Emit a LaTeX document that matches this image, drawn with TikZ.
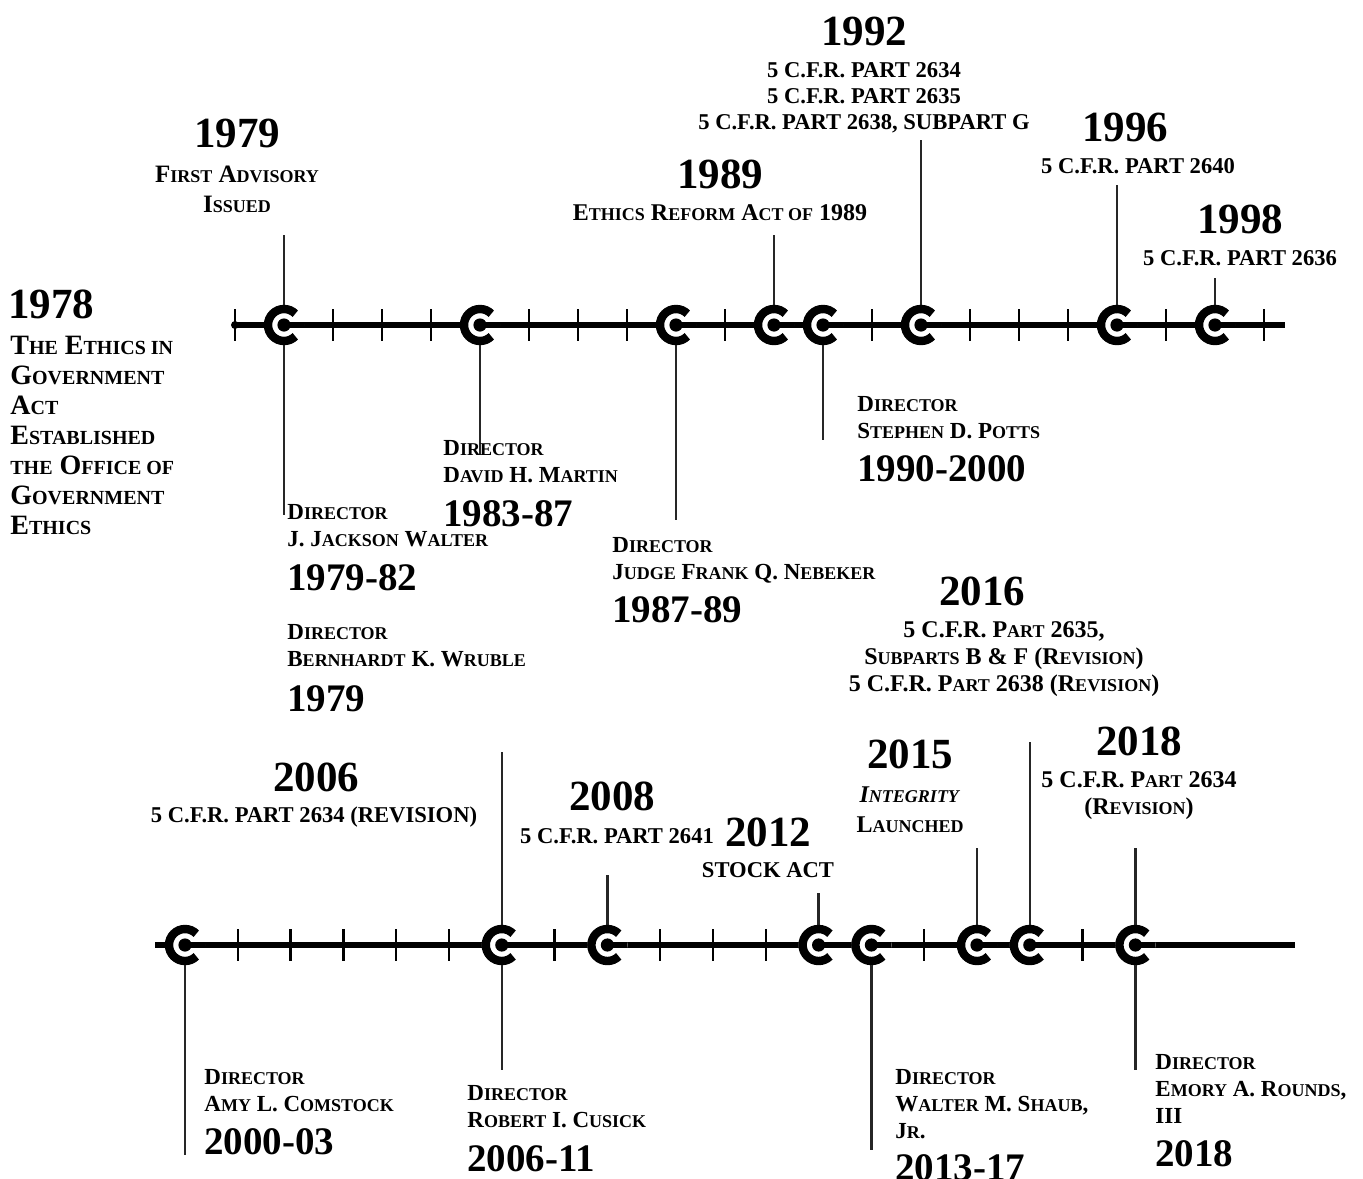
\documentclass[tikz,border=0pt]{standalone}
\usepackage{fontspec}
\setmainfont{Liberation Serif}
\usepackage{relsize}
\usetikzlibrary{calc}

% petites capitales faites main
\newcommand\sm[1]{{\relscale{0.75}\MakeUppercase{#1}}}

\begin{document}
\begin{tikzpicture}[
    x=0.5pt, y=-0.5pt,
    axis/.style={line width=2.6pt},
    tickmark/.style={line width=1.2pt},
    stem/.style={line width=1.3pt, black!85},
    yr/.style={font=\bfseries\fontsize{21.5}{24}\selectfont, inner sep=0pt, anchor=base},
    dyr/.style={font=\bfseries\fontsize{19.5}{22}\selectfont, inner sep=0pt, anchor=base west},
    hd/.style={font=\bfseries\fontsize{12}{13.5}\selectfont, align=center, inner sep=0pt, anchor=base},
    cfr/.style={font=\bfseries\fontsize{11.3}{13}\selectfont, align=center, inner sep=0pt, anchor=base},
    dir/.style={font=\bfseries\fontsize{11.5}{13.5}\selectfont, align=left, inner sep=0pt, anchor=base west}
  ]
  \useasboundingbox (0,0) rectangle (1363,1178);

  % Repères des deux frises
  \foreach \y in {1979,1983,1987,1989,1990,1992,1996,1998}
    \coordinate (m\y) at ({235+49*(\y-1978)},325);
  \foreach \y in {2000,2006,2008,2012,2013,2015,2016,2018}
    \coordinate (m\y) at ({185+52.8*(\y-2000)},945);
  \coordinate (start) at (235,325);
  \coordinate (endA) at (1285,325);
  \coordinate (startB) at (155,945);
  \coordinate (endB) at (1295,945);

  % Extrémités des tiges
  \coordinate (s1979u) at (m1979 |- 0,235);
  \coordinate (s1979d) at (m1979 |- 0,515);
  \coordinate (s1983d) at (m1983 |- 0,455);
  \coordinate (s1987d) at (m1987 |- 0,520);
  \coordinate (s1989u) at (m1989 |- 0,235);
  \coordinate (s1990d) at (m1990 |- 0,440);
  \coordinate (s1992u) at (m1992 |- 0,140);
  \coordinate (s1996u) at (m1996 |- 0,185);
  \coordinate (s1998u) at (m1998 |- 0,278);
  \coordinate (s2000d) at (m2000 |- 0,1155);
  \coordinate (s2006u) at (m2006 |- 0,752);
  \coordinate (s2006d) at (m2006 |- 0,1070);
  \coordinate (s2008u) at (m2008 |- 0,875);
  \coordinate (s2012u) at (m2012 |- 0,893);
  \coordinate (s2013d) at (m2013 |- 0,1150);
  \coordinate (s2015u) at (m2015 |- 0,848);
  \coordinate (s2016u) at (m2016 |- 0,742);
  \coordinate (s2018u) at (m2018 |- 0,848);
  \coordinate (s2018d) at (m2018 |- 0,1070);

  % Graduations
  \foreach \y in {1978,...,1999}
    \draw[tickmark] ({235+49*(\y-1978)},309) -- ++(0,32);
  \foreach \y in {2001,...,2017}
    \draw[tickmark] ({185+52.8*(\y-2000)},929) -- ++(0,32);

  % Axes
  \draw[axis] (start) -- (endA);
  \draw[axis] (startB) -- (endB);
  \fill (start) circle[radius=2pt];

  % Tiges
  \foreach \a/\b in {m1979/s1979u,m1979/s1979d,m1983/s1983d,m1987/s1987d,
      m1989/s1989u,m1990/s1990d,m1992/s1992u,m1996/s1996u,m1998/s1998u,
      m2000/s2000d,m2006/s2006u,m2006/s2006d,m2008/s2008u,m2012/s2012u,
      m2013/s2013d,m2015/s2015u,m2016/s2016u,m2018/s2018u,m2018/s2018d}
    \draw[stem] (\a) -- (\b);

  % Marqueurs en forme de C
  \foreach \y in {1979,1983,1987,1989,1990,1992,1996,1998,
                  2000,2006,2008,2012,2013,2015,2016,2018} {
    \fill[white] (m\y) circle[radius=10pt];
    \draw[line width=4.2pt] ([shift={(45:8pt)}]m\y) arc[start angle=45, end angle=315, radius=8pt];
    \fill (m\y) circle[radius=3.3pt];
    \draw[axis] (m\y) -- ++(10pt,0);
  }

  % Événements du haut (ancre = ligne de base de la dernière ligne)
  \node[yr, anchor=base west] (y1978) at (8,318) {1978};
  \node[font=\bfseries\fontsize{14}{15}\selectfont, align=left, inner sep=0pt, anchor=base west]
    (t1978) at (10,534) {T\sm{he} E\sm{thics in}\\G\sm{overnment}\\A\sm{ct}\\E\sm{stablished}\\
      \sm{the} O\sm{ffice of}\\G\sm{overnment}\\E\sm{thics}};
  \node[yr] (y1979) at (237,147) {1979};
  \node[hd, font=\bfseries\fontsize{12.5}{15}\selectfont] (t1979) at (237,212)
    {F\sm{irst} A\sm{dvisory}\\I\sm{ssued}};
  \node[yr] (y1989) at (720,188) {1989};
  \node[hd] (t1989) at (720,220) {E\sm{thics} R\sm{eform} A\sm{ct of} 1989};
  \node[yr] (y1992) at (864,45) {1992};
  \node[cfr] (t1992) at (864,129)
    {5 C.F.R. PART 2634\\5 C.F.R. PART 2635\\5 C.F.R. PART 2638, SUBPART G};
  \node[yr] (y1996) at (1125,141) {1996};
  \node[cfr] (t1996) at (1138,173) {5 C.F.R. PART 2640};
  \node[yr] (y1998) at (1240,233) {1998};
  \node[cfr] (t1998) at (1240,265) {5 C.F.R. PART 2636};

  % Directeurs, frise du haut
  \node[dir] (walter) at (287,546) {D\sm{irector}\\J. J\sm{ackson} W\sm{alter}};
  \node[dyr] (walteryr) at (287,590) {1979-82};
  \node[dir] (wruble) at (287,666) {D\sm{irector}\\B\sm{ernhardt} K. W\sm{ruble}};
  \node[dyr] (wrubleyr) at (287,711) {1979};
  \node[dir] (martin) at (443,482) {D\sm{irector}\\D\sm{avid} H. M\sm{artin}};
  \node[dyr] (martinyr) at (443,526) {1983-87};
  \node[dir] (nebeker) at (612,579) {D\sm{irector}\\J\sm{udge} F\sm{rank} Q. N\sm{ebeker}};
  \node[dyr] (nebekeryr) at (612,622) {1987-89};
  \node[dir] (potts) at (857,438) {D\sm{irector}\\S\sm{tephen} D. P\sm{otts}};
  \node[dyr] (pottsyr) at (857,481) {1990-2000};

  % Événements du bas
  \node[yr] (y2016) at (982,605) {2016};
  \node[hd] (t2016) at (1004,691)
    {5 C.F.R. P\sm{art} 2635,\\S\sm{ubparts} B \& F (R\sm{evision})\\5 C.F.R. P\sm{art} 2638 (R\sm{evision})};
  \node[yr] (y2006) at (316,791) {2006};
  \node[cfr] (t2006) at (314,822) {5 C.F.R. PART 2634 (REVISION)};
  \node[yr] (y2008) at (612,810) {2008};
  \node[cfr] (t2008) at (617,843) {5 C.F.R. PART 2641};
  \node[yr] (y2012) at (768,846) {2012};
  \node[cfr] (t2012) at (768,877) {STOCK ACT};
  \node[yr] (y2015) at (910,768) {2015};
  \node[hd, font=\bfseries\fontsize{12}{15}\selectfont] (t2015) at (910,832)
    {\textit{I\sm{ntegrity}}\\L\sm{aunched}};
  \node[yr] (y2018) at (1139,755) {2018};
  \node[hd] (t2018) at (1139,814) {5 C.F.R. P\sm{art} 2634\\(R\sm{evision})};

  % Directeurs, frise du bas
  \node[dir] (comstock) at (204,1111) {D\sm{irector}\\A\sm{my} L. C\sm{omstock}};
  \node[dyr] (comstockyr) at (204,1154) {2000-03};
  \node[dir] (cusick) at (467,1127) {D\sm{irector}\\R\sm{obert} I. C\sm{usick}};
  \node[dyr] (cusickyr) at (467,1171) {2006-11};
  \node[dir] (shaub) at (895,1138) {D\sm{irector}\\W\sm{alter} M. S\sm{haub},\\J\sm{r}.};
  \node[dyr] (shaubyr) at (895,1180) {2013-17};
  \node[dir] (rounds) at (1155,1123) {D\sm{irector}\\E\sm{mory} A. R\sm{ounds},\\III};
  \node[dyr] (roundsyr) at (1155,1166) {2018};
\end{tikzpicture}
\end{document}
